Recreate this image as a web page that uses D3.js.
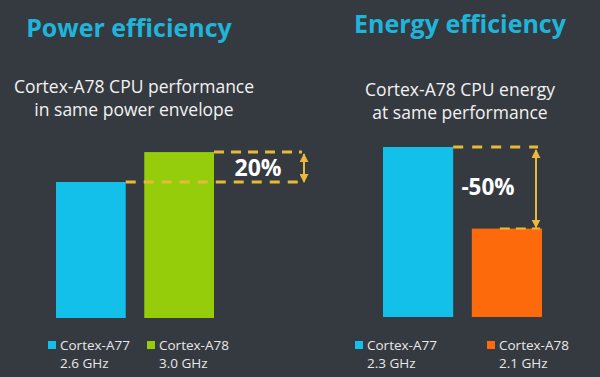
<!DOCTYPE html>
<html>
<head>
<meta charset="utf-8">
<script src="https://cdn.jsdelivr.net/npm/d3@7/dist/d3.min.js"></script>
<style>
  html, body { margin: 0; padding: 0; background: #353a40; }
  svg { display: block; }
</style>
</head>
<body>
<svg id="chart" width="600" height="377"></svg>
<script>
// ---- data ----
const powerTitle = "Power efficiency";
const powerSubtitle = ["Cortex-A78 CPU performance", "in same power envelope"];
const powerCategories = ["Cortex-A77", "Cortex-A78"];
const powerFreqs = ["2.6 GHz", "3.0 GHz"];
const powerValues = [100, 122];
const powerLabel = "20%";

const energyTitle = "Energy efficiency";
const energySubtitle = ["Cortex-A78 CPU energy", "at same performance"];
const energyCategories = ["Cortex-A77", "Cortex-A78"];
const energyFreqs = ["2.3 GHz", "2.1 GHz"];
const energyValues = [100, 52];
const energyLabel = "-50%";

const powerColors = ["#12c0ea", "#95cd0b"];
const energyColors = ["#12c0ea", "#fd6a0c"];

const svg = d3.select("#chart");
svg.append("rect").attr("width", 600).attr("height", 377).attr("fill", "#353a40");

const dashColor = "#e9b93a";
const defs = svg.append("defs");
defs.append("marker").attr("id", "ah").attr("viewBox", "0 0 10 10")
  .attr("refX", 9).attr("refY", 5).attr("markerWidth", 4.5).attr("markerHeight", 4.5)
  .attr("orient", "auto-start-reverse").attr("markerUnits", "strokeWidth")
  .append("path").attr("d", "M0,0 L10,5 L0,10 z").attr("fill", dashColor);

function panel(cfg) {
  const g = svg.append("g");
  g.append("text").attr("x", cfg.titleX).attr("y", cfg.titleY)
    .attr("text-anchor", "middle").attr("fill", "#1fb5da")
    .attr("font-family", "Open Sans, sans-serif").attr("font-weight", 700)
    .attr("font-size", 25).text(cfg.title);
  cfg.subtitle.forEach((s, i) => {
    g.append("text").attr("x", cfg.subX).attr("y", cfg.subY + i * 22.5)
      .attr("text-anchor", "middle").attr("fill", "#f2f2f2")
      .attr("font-family", "Open Sans, sans-serif").attr("font-size", cfg.subSize)
      .text(s);
  });
  const x = d3.scaleBand().domain(cfg.categories).range(cfg.xRange).paddingInner(0.21).paddingOuter(0);
  const y = d3.scaleLinear().domain([0, cfg.yMax]).range([cfg.base, cfg.top]);
  g.selectAll("rect.bar").data(cfg.values).join("rect").attr("class", "bar")
    .attr("x", (d, i) => x(cfg.categories[i]))
    .attr("width", x.bandwidth())
    .attr("y", d => y(d))
    .attr("height", d => cfg.base - y(d))
    .attr("fill", (d, i) => cfg.colors[i]);

  cfg.categories.forEach((c, i) => {
    const lx = cfg.legendX[i];
    g.append("rect").attr("x", lx).attr("y", 341).attr("width", 8).attr("height", 8)
      .attr("fill", cfg.colors[i]);
    g.append("text").attr("x", lx + 12).attr("y", 349.5).attr("fill", "#e8e8e8")
      .attr("font-family", "Open Sans, sans-serif").attr("font-size", 13.5).text(c);
    g.append("text").attr("x", lx + 12).attr("y", 368).attr("fill", "#e8e8e8")
      .attr("font-family", "Open Sans, sans-serif").attr("font-size", 13.5).text(cfg.freqs[i]);
  });
  return { g, x, y };
}

// ---- left panel ----
const L = panel({
  title: powerTitle, titleX: 129, titleY: 37,
  subtitle: powerSubtitle, subX: 134, subY: 93, subSize: 17.5,
  categories: powerCategories, values: powerValues, freqs: powerFreqs, colors: powerColors,
  xRange: [56, 214], yMax: 100, base: 318, top: 182,
  legendX: [48, 147]
});
{
  const { g, x, y } = L;
  const yA = y(powerValues[0]), yB = y(powerValues[1]);
  const xAend = x(powerCategories[0]) + x.bandwidth();
  const xBend = x(powerCategories[1]) + x.bandwidth();
  const arrowX = 304;
  g.append("line").attr("x1", xAend).attr("x2", arrowX - 6).attr("y1", yA).attr("y2", yA)
    .attr("stroke", dashColor).attr("stroke-width", 3).attr("stroke-dasharray", "10,8");
  g.append("line").attr("x1", xBend).attr("x2", arrowX - 2).attr("y1", yB).attr("y2", yB)
    .attr("stroke", dashColor).attr("stroke-width", 3).attr("stroke-dasharray", "10,7");
  g.append("line").attr("x1", arrowX).attr("x2", arrowX).attr("y1", yB + 2).attr("y2", yA)
    .attr("stroke", dashColor).attr("stroke-width", 2)
    .attr("marker-start", "url(#ah)").attr("marker-end", "url(#ah)");
  g.append("text").attr("x", 258).attr("y", (yA + yB) / 2 + 8.5).attr("text-anchor", "middle")
    .attr("fill", "#ffffff").attr("font-family", "Open Sans, sans-serif")
    .attr("font-weight", 700).attr("font-size", 23).text(powerLabel);
}

// ---- right panel ----
const R = panel({
  title: energyTitle, titleX: 460, titleY: 33,
  subtitle: energySubtitle, subX: 460, subY: 96, subSize: 17.5,
  categories: energyCategories, values: energyValues, freqs: energyFreqs, colors: energyColors,
  xRange: [383, 542], yMax: 100, base: 317, top: 147,
  legendX: [355, 487]
});
{
  const { g, x, y } = R;
  const yA = y(energyValues[0]), yB = y(energyValues[1]);
  const xAend = x(energyCategories[0]) + x.bandwidth();
  const arrowX = 536;
  g.append("line").attr("x1", xAend).attr("x2", arrowX + 2).attr("y1", yA).attr("y2", yA)
    .attr("stroke", dashColor).attr("stroke-width", 3).attr("stroke-dasharray", "10,9");
  g.append("line").attr("x1", x(energyCategories[1]) + 28).attr("x2", arrowX + 4).attr("y1", yB).attr("y2", yB)
    .attr("stroke", dashColor).attr("stroke-width", 2).attr("stroke-dasharray", "10,6");
  g.append("line").attr("x1", arrowX).attr("x2", arrowX).attr("y1", yA + 3).attr("y2", yB - 1)
    .attr("stroke", dashColor).attr("stroke-width", 2)
    .attr("marker-start", "url(#ah)").attr("marker-end", "url(#ah)");
  g.append("text").attr("x", 488).attr("y", 195).attr("text-anchor", "middle")
    .attr("fill", "#ffffff").attr("font-family", "Open Sans, sans-serif")
    .attr("font-weight", 700).attr("font-size", 22.5).text(energyLabel);
}
</script>
</body>
</html>
